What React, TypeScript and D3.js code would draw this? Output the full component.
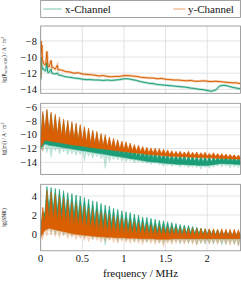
import React from 'react'
import * as d3 from 'd3'

const GREEN = '#1b9e77'
const ORANGE = '#d95f02'
const FONT = '"Liberation Serif", "DejaVu Serif", serif'

const channels = ['x-Channel', 'y-Channel']
const freqTicks = [0, 0.5, 1, 1.5, 2]
const noiseTicks = [-14, -12, -10, -8]
const magTicks = [-14, -12, -10, -8, -6]
const snrTicks = [0, 2, 4]

// panel 1: noise floor, sampled frequencies (MHz)
const noiseFreq = [0, 0.005, 0.01, 0.015, 0.02, 0.03, 0.04, 0.05, 0.06, 0.075, 0.085, 0.1, 0.125, 0.135, 0.15, 0.175, 0.2, 0.21, 0.25,
  0.3, 0.35, 0.4, 0.45, 0.5, 0.55, 0.6, 0.65, 0.7, 0.75, 0.8, 0.85, 0.9, 0.95, 1, 1.05, 1.1, 1.15, 1.2, 1.25,
  1.3, 1.35, 1.4, 1.45, 1.5, 1.55, 1.6, 1.65, 1.7, 1.75, 1.8, 1.85, 1.9, 1.95, 2, 2.05, 2.1, 2.15, 2.2, 2.25, 2.3, 2.35, 2.4]
const noiseX = [-12.8, -10.0, -10.6, -11.2, -11.5, -11.4, -11.6, -11.7, -11.7, -10.7, -11.9, -11.9, -11.5, -12.0, -12.05, -12.1, -12.0, -12.2, -12.3,
  -12.45, -12.5, -12.6, -12.65, -12.75, -12.8, -12.8, -12.85, -12.85, -12.9, -12.85, -12.9, -12.85, -12.8, -12.7, -12.7, -12.8, -12.9, -13.05, -13.15,
  -13.25, -13.3, -13.4, -13.45, -13.5, -13.55, -13.6, -13.65, -13.7, -13.75, -13.85, -13.9, -14.0, -14.05, -14.15, -14.25, -14.1, -13.6, -13.5, -13.6,
  -13.75, -13.85, -13.95]
const noiseY = [-12.6, -8.0, -9.5, -8.5, -10.2, -10.6, -10.9, -11.0, -10.9, -9.3, -11.1, -11.2, -10.4, -11.3, -11.3, -11.5, -11.0, -11.6, -11.6,
  -11.8, -11.85, -12.0, -11.95, -12.1, -12.15, -12.2, -12.25, -12.35, -12.3, -12.4, -12.45, -12.4, -12.4, -12.3, -12.3, -12.35, -12.4, -12.5, -12.55,
  -12.6, -12.6, -12.7, -12.65, -12.75, -12.8, -12.85, -12.85, -12.9, -12.95, -12.9, -13.0, -13.0, -12.95, -13.0, -13.05, -13.0, -13.05, -13.1, -13.15,
  -13.2, -13.2, -13.3]

// comb: valleys between harmonics and harmonic peaks (MHz)
const valleyFreq = [0, 0.05, 0.1, 0.15, 0.2, 0.25, 0.3, 0.35, 0.4, 0.45, 0.5, 0.55, 0.6, 0.65, 0.7, 0.75, 0.8, 0.85, 0.9, 0.95,
  1, 1.05, 1.1, 1.15, 1.2, 1.25, 1.3, 1.35, 1.4, 1.45, 1.5, 1.55, 1.6, 1.65, 1.7, 1.75, 1.8, 1.85, 1.9, 1.95,
  2, 2.05, 2.1, 2.15, 2.2, 2.25, 2.3, 2.35, 2.4]
const peakFreq = [0.025, 0.075, 0.125, 0.175, 0.225, 0.275, 0.325, 0.375, 0.425, 0.475, 0.525, 0.575, 0.625, 0.675, 0.725, 0.775, 0.825, 0.875, 0.925, 0.975,
  1.025, 1.075, 1.125, 1.175, 1.225, 1.275, 1.325, 1.375, 1.425, 1.475, 1.525, 1.575, 1.625, 1.675, 1.725, 1.775, 1.825, 1.875, 1.925, 1.975,
  2.025, 2.075, 2.125, 2.175, 2.225, 2.275, 2.325, 2.375]

// panel 2: lg(|m|)
const magXPeak = [-7.0, -6.6, -7.0, -7.3, -7.7, -8.0, -8.2, -8.4, -8.6, -8.8, -9.1, -9.3, -9.6, -9.8, -10.1, -10.3, -10.6, -10.8, -11.0, -11.2,
  -11.3, -11.5, -11.7, -11.85, -12.0, -12.15, -12.3, -12.4, -12.5, -12.6, -12.7, -12.8, -12.85, -12.9, -12.95, -13.0, -13.0, -13.05, -13.1, -13.1,
  -13.15, -13.2, -13.15, -13.1, -13.15, -13.2, -13.25, -13.3]
const magXValley = [-11.0, -9.7, -10.0, -10.2, -10.4, -10.6, -10.8, -11.0, -11.1, -11.3, -11.5, -11.6, -11.8, -11.9, -12.1, -12.2, -12.4, -12.5, -12.6, -12.75,
  -12.85, -12.95, -13.05, -13.15, -13.25, -13.3, -13.4, -13.45, -13.5, -13.55, -13.6, -13.65, -13.7, -13.7, -13.75, -13.8, -13.8, -13.85, -13.9, -13.9,
  -13.95, -13.9, -13.8, -13.75, -13.75, -13.8, -13.8, -13.85, -13.9]
const magXLow = [-12.0, -11.3, -11.5, -11.6, -11.7, -11.8, -11.9, -12.0, -12.1, -12.2, -12.3, -12.4, -12.5, -12.6, -12.7, -12.8, -12.9, -13.0, -13.1, -13.2,
  -13.3, -13.4, -13.5, -13.6, -13.7, -13.8, -13.9, -13.95, -14.0, -14.1, -14.15, -14.2, -14.25, -14.3, -14.3, -14.35, -14.4, -14.4, -14.45, -14.45,
  -14.45, -14.4, -14.3, -14.2, -14.2, -14.25, -14.25, -14.3, -14.3]
const magXSpike = [-12.3, -12.6, -13.3, -12.4, -12.8, -12.5, -12.9, -12.8, -13.0, -12.9, -13.8, -13.1, -13.4, -13.2, -13.5, -14.9, -13.9, -13.6, -13.7, -13.8,
  -13.9, -13.8, -14.1, -14.0, -14.1, -14.2, -14.3, -14.2, -14.4, -14.6, -14.5, -14.6, -14.5, -14.7, -14.6, -14.8, -14.7, -14.8, -15.0, -14.8,
  -14.9, -14.7, -14.6, -14.7, -14.6, -14.8, -14.7, -14.8]

const magYPeak = [-6.6, -6.3, -6.7, -7.0, -7.4, -7.7, -7.9, -8.1, -8.3, -8.5, -8.8, -9.0, -9.3, -9.5, -9.8, -10.0, -10.3, -10.5, -10.7, -10.9,
  -11.0, -11.2, -11.4, -11.5, -11.7, -11.8, -11.9, -11.95, -12.0, -12.1, -12.2, -12.3, -12.4, -12.4, -12.5, -12.4, -12.55, -12.5, -12.6, -12.55,
  -12.7, -12.6, -12.7, -12.75, -12.8, -12.85, -12.9, -12.95]
const magYValley = [-10.9, -9.3, -9.5, -9.8, -10.0, -10.2, -10.4, -10.5, -10.7, -10.85, -10.95, -11.1, -11.25, -11.35, -11.5, -11.6, -11.75, -11.85, -11.95, -12.05,
  -12.15, -12.2, -12.3, -12.4, -12.45, -12.55, -12.6, -12.65, -12.7, -12.75, -12.8, -12.85, -12.9, -12.9, -12.95, -12.95, -13.0, -13.0, -13.05, -13.05,
  -13.1, -13.1, -13.15, -13.15, -13.2, -13.25, -13.25, -13.3, -13.35]
const magYLow = [-11.8, -10.8, -10.9, -11.0, -11.1, -11.2, -11.3, -11.4, -11.5, -11.55, -11.65, -11.75, -11.85, -11.9, -12.0, -12.05, -12.15, -12.2, -12.3, -12.35,
  -12.45, -12.5, -12.6, -12.65, -12.7, -12.8, -12.85, -12.9, -12.95, -13.0, -13.05, -13.1, -13.1, -13.15, -13.2, -13.2, -13.25, -13.25, -13.3, -13.3,
  -13.35, -13.35, -13.4, -13.4, -13.45, -13.45, -13.5, -13.5, -13.55]
const magYSpike = [-12.4, -11.4, -11.6, -11.5, -11.8, -11.7, -11.9, -12.1, -11.9, -12.2, -12.1, -12.5, -12.3, -12.4, -12.6, -12.5, -12.7, -12.6, -12.9, -12.8,
  -13.0, -12.9, -13.1, -13.0, -13.3, -13.2, -13.4, -13.3, -13.5, -13.9, -13.5, -13.6, -13.5, -13.7, -13.6, -13.8, -13.6, -13.7, -13.9, -13.7,
  -13.8, -13.7, -13.9, -13.8, -13.9, -14.0, -13.9, -14.1]

// panel 3: lg(SNR)
const snrXPeak = [2.3, 5.0, 4.9, 4.8, 4.7, 4.55, 4.35, 4.25, 4.1, 4.0, 3.85, 3.65, 3.5, 3.4, 3.2, 3.05, 2.95, 2.7, 2.6, 2.45,
  2.35, 2.25, 2.1, 2.0, 1.8, 1.75, 1.65, 1.55, 1.45, 1.4, 1.3, 1.2, 1.1, 1.0, 0.95, 0.9, 0.8, 0.7, 0.6, 0.55,
  0.5, 0.45, 0.45, 0.35, 0.35, 0.3, 0.3, 0.25]
const snrXValley = [0.8, 2.2, 2.7, 2.6, 2.5, 2.4, 2.25, 2.1, 2.0, 1.85, 1.75, 1.6, 1.5, 1.4, 1.3, 1.2, 1.1, 1.0, 0.9, 0.8,
  0.75, 0.7, 0.6, 0.55, 0.5, 0.45, 0.4, 0.35, 0.3, 0.3, 0.25, 0.2, 0.2, 0.15, 0.15, 0.1, 0.1, 0.05, 0.05, 0.0,
  0.0, 0.0, -0.05, -0.05, -0.05, -0.05, -0.1, -0.1, -0.1]
const snrXLow = [0.0, 0.8, 1.0, 0.9, 0.8, 0.7, 0.6, 0.5, 0.4, 0.3, 0.25, 0.2, 0.1, 0.05, 0.0, -0.05, -0.1, -0.1, -0.15, -0.2,
  -0.2, -0.25, -0.25, -0.3, -0.3, -0.3, -0.35, -0.35, -0.35, -0.4, -0.4, -0.4, -0.4, -0.4, -0.4, -0.45, -0.45, -0.45, -0.45, -0.45,
  -0.45, -0.45, -0.45, -0.45, -0.45, -0.45, -0.45, -0.45, -0.45]
const snrXSpike = [-0.2, 0.3, 0.2, 0.0, 0.1, -0.1, 0.0, -0.2, -0.1, -0.3, -0.4, -0.2, -0.6, -0.4, -0.5, -1.2, -0.6, -0.5, -0.7, -0.6,
  -0.7, -0.6, -0.8, -0.7, -0.8, -0.9, -0.7, -0.8, -0.9, -1.0, -0.8, -0.9, -0.8, -1.0, -0.9, -1.0, -0.9, -1.1, -1.0, -1.1,
  -1.0, -1.1, -1.0, -1.2, -1.1, -1.0, -1.1, -1.2]

const snrYPeak = [2.8, 4.6, 4.4, 4.2, 4.0, 3.8, 3.6, 3.4, 3.2, 3.05, 2.9, 2.75, 2.6, 2.45, 2.3, 2.2, 2.05, 1.95, 1.8, 1.7,
  1.55, 1.45, 1.35, 1.25, 1.15, 1.05, 0.95, 0.9, 0.85, 0.8, 0.75, 0.7, 0.7, 0.65, 0.65, 0.6, 0.6, 0.6, 0.6, 0.55,
  0.55, 0.55, 0.5, 0.55, 0.5, 0.5, 0.5, 0.45]
const snrYValley = [-0.1, 1.3, 1.6, 1.5, 1.4, 1.3, 1.2, 1.05, 0.95, 0.85, 0.75, 0.65, 0.55, 0.45, 0.35, 0.3, 0.2, 0.15, 0.1, 0.05,
  0.0, 0.0, -0.05, -0.05, -0.1, -0.1, -0.1, -0.15, -0.15, -0.15, -0.15, -0.2, -0.15, -0.2, -0.2, -0.15, -0.2, -0.2, -0.2, -0.2,
  -0.2, -0.2, -0.2, -0.2, -0.2, -0.2, -0.25, -0.2, -0.25]
const snrYLow = [-0.3, 0.4, 0.6, 0.5, 0.4, 0.3, 0.2, 0.1, 0.0, -0.05, -0.1, -0.15, -0.2, -0.25, -0.3, -0.3, -0.35, -0.35, -0.4, -0.4,
  -0.4, -0.45, -0.45, -0.45, -0.5, -0.5, -0.5, -0.5, -0.55, -0.55, -0.55, -0.55, -0.5, -0.5, -0.5, -0.5, -0.5, -0.5, -0.5, -0.5,
  -0.5, -0.5, -0.5, -0.5, -0.5, -0.5, -0.5, -0.5, -0.5]
const snrYSpike = [-0.6, -0.2, -0.1, -0.3, -0.4, -0.2, -0.5, -0.4, -0.6, -0.5, -0.7, -0.8, -0.6, -0.7, -0.9, -0.8, -0.7, -0.9, -1.0, -0.8,
  -0.9, -1.0, -0.9, -1.0, -1.1, -0.9, -1.0, -1.1, -1.0, -1.35, -1.0, -1.1, -1.0, -1.0, -1.1, -1.0, -1.1, -1.2, -1.0, -1.0,
  -1.1, -1.0, -1.1, -1.0, -1.1, -1.2, -1.1, -1.3]

type Pt = [number, number]

const zip = (fs: number[], vs: number[]): Pt[] => fs.map((f, i) => [f, vs[i]])

// alternate valley / peak points: valley0, peak0, valley1, peak1, ...
const interleave = (a: Pt[], b: Pt[]): Pt[] => {
  const out: Pt[] = []
  a.forEach((p, i) => {
    out.push(p)
    if (b[i]) out.push(b[i])
  })
  return out
}

const fmt = (v: number) => (v < 0 ? '\u2212' + Math.abs(v) : String(v))

const X0 = 40.7
const X1 = 240.5
const x = d3.scaleLinear().domain([0, 2.4]).range([X0, X1])

function Frame({ id, top, bottom, y, ticks }: { id: string; top: number; bottom: number; y: d3.ScaleLinear<number, number>; ticks: number[] }) {
  return (
    <g>
      <clipPath id={id}>
        <rect x={X0} y={top} width={X1 - X0} height={bottom - top} />
      </clipPath>
      {freqTicks.map(t => (
        <line key={'v' + t} x1={x(t)} x2={x(t)} y1={top} y2={bottom} stroke="#dcdcdc" strokeWidth={0.8} />
      ))}
      {ticks.map(t => (
        <line key={'h' + t} x1={X0} x2={X1} y1={y(t)} y2={y(t)} stroke="#dcdcdc" strokeWidth={0.8} />
      ))}
      {ticks.map(t => (
        <text key={'l' + t} x={37} y={y(t)} dy="0.35em" textAnchor="end" fontSize={10.5} fontFamily={FONT} fill="#111">
          {fmt(t)}
        </text>
      ))}
    </g>
  )
}

function Border({ top, bottom }: { top: number; bottom: number }) {
  return <rect x={X0} y={top} width={X1 - X0} height={bottom - top} fill="none" stroke="#8c8c8c" strokeWidth={0.8} />
}

function CombPanel(props: {
  id: string; top: number; bottom: number; domain: [number, number]; ticks: number[]
  series: { color: string; peak: number[]; valley: number[]; low: number[]; spike: number[] }[]
}) {
  const { id, top, bottom, domain, ticks, series } = props
  const y = d3.scaleLinear().domain(domain).range([bottom, top])
  const line = d3.line<Pt>().x(d => x(d[0])).y(d => y(d[1]))
  const shapes = series.map(s => {
    const upper = interleave(zip(valleyFreq, s.valley), zip(peakFreq, s.peak))
    const lower = zip(valleyFreq, s.low)
    const lightLower = interleave(zip(valleyFreq, s.low), zip(peakFreq, s.spike))
    return {
      color: s.color,
      light: line(upper.concat(lightLower.slice().reverse())) + 'Z',
      dark: line(upper.concat(lower.slice().reverse())) + 'Z',
    }
  })
  return (
    <g>
      <Frame id={id} top={top} bottom={bottom} y={y} ticks={ticks} />
      <g clipPath={`url(#${id})`}>
        {shapes.map((s, i) => (
          <path key={'l' + i} d={s.light} fill={s.color} fillOpacity={0.25} stroke={s.color} strokeOpacity={0.3} strokeWidth={0.5} />
        ))}
        {shapes.map((s, i) => (
          <path key={'d' + i} d={s.dark} fill={s.color} stroke={s.color} strokeWidth={0.5} strokeLinejoin="round" />
        ))}
      </g>
      <Border top={top} bottom={bottom} />
    </g>
  )
}

function NoisePanel({ top, bottom }: { top: number; bottom: number }) {
  const y = d3.scaleLinear().domain([-14.5, -6.14]).range([bottom, top])
  const line = d3.line<Pt>().x(d => x(d[0])).y(d => y(d[1]))
  const traces = [
    { color: GREEN, d: line(zip(noiseFreq, noiseX)) || '' },
    { color: ORANGE, d: line(zip(noiseFreq, noiseY)) || '' },
  ]
  return (
    <g>
      <Frame id="clip-noise" top={top} bottom={bottom} y={y} ticks={noiseTicks} />
      <g clipPath="url(#clip-noise)">
        {traces.map((t, i) => (
          <path key={'l' + i} d={t.d} fill="none" stroke={t.color} strokeOpacity={0.3} strokeWidth={2.6} />
        ))}
        {traces.map((t, i) => (
          <path key={'d' + i} d={t.d} fill="none" stroke={t.color} strokeWidth={1} />
        ))}
      </g>
      <Border top={top} bottom={bottom} />
    </g>
  )
}

function YLabel({ cy, children }: { cy: number; children: React.ReactNode }) {
  return (
    <text transform={`translate(6,${cy}) rotate(-90)`} textAnchor="middle" fontSize={5.5} fontFamily={FONT} fill="#222">
      {children}
    </text>
  )
}

export default function App() {
  const p1 = { top: 26, bottom: 93.3 }
  const p2 = { top: 103.3, bottom: 174.5 }
  const p3 = { top: 184.3, bottom: 250.8 }
  return (
    <svg width={241} height={282} style={{ position: 'absolute', left: 0, top: 0, background: '#fff' }}>
      {/* legend */}
      <rect x={X0} y={0.5} width={X1 - X0} height={17} fill="#fff" stroke="#8c8c8c" strokeWidth={0.8} />
      <line x1={43.3} x2={61.7} y1={9} y2={9} stroke={GREEN} strokeOpacity={0.6} strokeWidth={1} />
      <text x={65} y={9} dy="0.35em" fontSize={11} fontFamily={FONT} fill="#111">{channels[0]}</text>
      <line x1={173.3} x2={185.5} y1={9} y2={9} stroke={ORANGE} strokeOpacity={0.6} strokeWidth={1} />
      <text x={188} y={9} dy="0.35em" fontSize={11} fontFamily={FONT} fill="#111">{channels[1]}</text>

      <NoisePanel top={p1.top} bottom={p1.bottom} />
      <CombPanel id="clip-mag" top={p2.top} bottom={p2.bottom} domain={[-15.77, -5.42]} ticks={magTicks}
        series={[
          { color: GREEN, peak: magXPeak, valley: magXValley, low: magXLow, spike: magXSpike },
          { color: ORANGE, peak: magYPeak, valley: magYValley, low: magYLow, spike: magYSpike },
        ]} />
      <CombPanel id="clip-snr" top={p3.top} bottom={p3.bottom} domain={[-1.77, 5.23]} ticks={snrTicks}
        series={[
          { color: GREEN, peak: snrXPeak, valley: snrXValley, low: snrXLow, spike: snrXSpike },
          { color: ORANGE, peak: snrYPeak, valley: snrYValley, low: snrYLow, spike: snrYSpike },
        ]} />

      {freqTicks.map(t => (
        <text key={t} x={x(t)} y={262} textAnchor="middle" fontSize={10.5} fontFamily={FONT} fill="#111">{fmt(t)}</text>
      ))}
      <text x={(X0 + X1) / 2} y={277} textAnchor="middle" fontSize={11} fontFamily={FONT} fill="#111">frequency / MHz</text>

      <YLabel cy={(p1.top + p1.bottom) / 2}>
        lg(P<tspan dy={1} fontSize={4}>noise+DK</tspan><tspan dy={-1}>) / A · m</tspan><tspan dy={-2} fontSize={4}>2</tspan>
      </YLabel>
      <YLabel cy={(p2.top + p2.bottom) / 2}>
        lg(|m|) / A · m<tspan dy={-2} fontSize={4}>2</tspan>
      </YLabel>
      <YLabel cy={(p3.top + p3.bottom) / 2}>lg(SNR)</YLabel>
    </svg>
  )
}
